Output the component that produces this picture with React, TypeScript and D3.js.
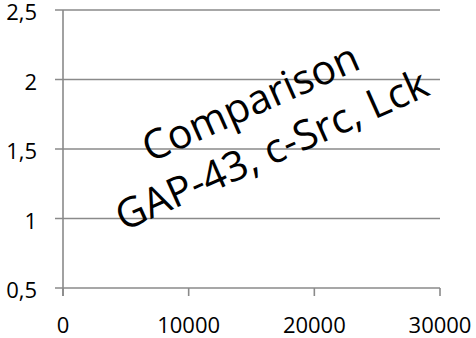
import React from "react";
import * as d3 from "d3";

const yTicks = [0.5, 1, 1.5, 2, 2.5];
const xTicks = [0, 10000, 20000, 30000];
const titleLines = ["Comparison", "GAP-43, c-Src, Lck"];

const W = 476;
const H = 338;

export default function App() {
  const x = d3.scaleLinear().domain([0, 30000]).range([63, 440]);
  const y = d3.scaleLinear().domain([0.5, 2.5]).range([288, 10]);
  const fmtY = (v: number) => String(v).replace(".", ",");
  const grid = "#8a8a8a";
  const font = "'Open Sans', sans-serif";
  const cx = 261;
  const cy = 126;
  const angle = -24;
  const rad = (angle * Math.PI) / 180;
  return (
    <svg
      width={W}
      height={H}
      style={{ position: "absolute", left: 0, top: 0, background: "#fff" }}
    >
      {yTicks.map((t) => (
        <g key={"y" + t}>
          <line x1={55} x2={x(30000)} y1={y(t)} y2={y(t)} stroke={grid} strokeWidth={1.6} />
          <text
            x={37}
            y={y(t) + 10}
            textAnchor="end"
            fontFamily={font}
            fontSize={22}
            fill="#000"
          >
            {fmtY(t)}
          </text>
        </g>
      ))}
      <line x1={x(0)} x2={x(0)} y1={y(2.5)} y2={296} stroke={grid} strokeWidth={1.6} />
      {xTicks.map((t) => (
        <g key={"x" + t}>
          <line x1={x(t)} x2={x(t)} y1={y(0.5)} y2={296} stroke={grid} strokeWidth={1.6} />
          <text
            x={x(t)}
            y={333}
            textAnchor="middle"
            fontFamily={font}
            fontSize={22}
            fill="#000"
          >
            {t}
          </text>
        </g>
      ))}
      {titleLines.map((l, i) => {
        const off = (i - 0.5) * 52;
        const px = cx - Math.sin(rad) * off;
        const py = cy + Math.cos(rad) * off;
        return (
          <text
            key={l}
            x={px}
            y={py}
            dy="0.35em"
            textAnchor="middle"
            fontFamily={font}
            fontSize={41}
            fill="#000"
            transform={`rotate(${angle} ${px} ${py})`}
          >
            {l}
          </text>
        );
      })}
    </svg>
  );
}
